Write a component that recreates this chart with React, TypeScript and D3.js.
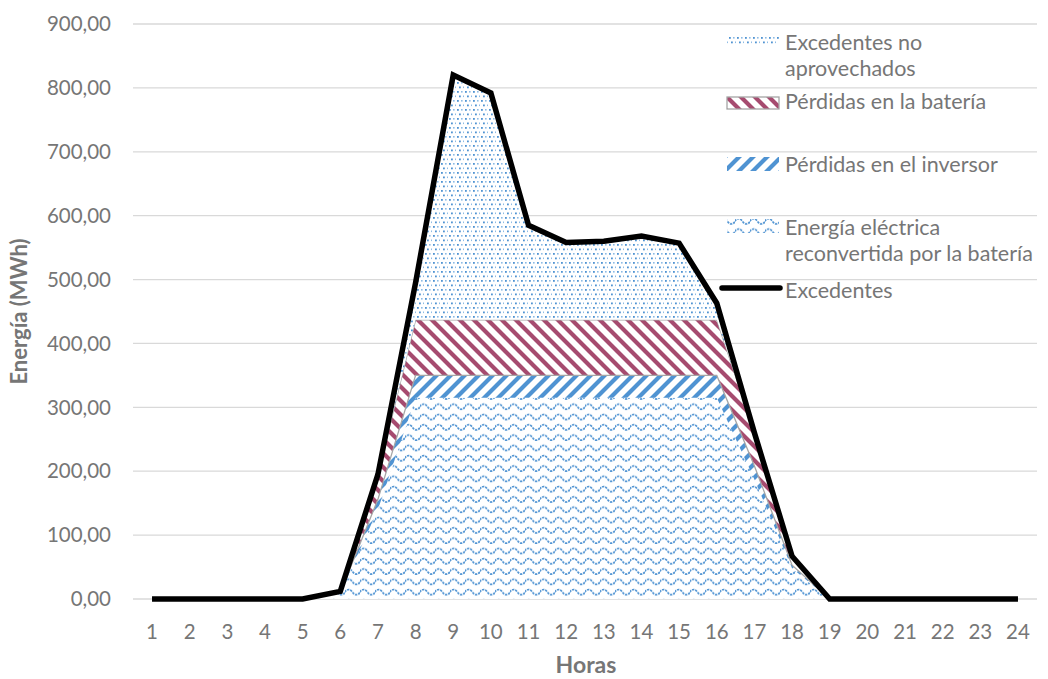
import React from "react";
import * as d3 from "d3";

const hours = ["1","2","3","4","5","6","7","8","9","10","11","12","13","14","15","16","17","18","19","20","21","22","23","24"];
const reconvertida = [0,0,0,0,0,9,140,315,315,315,315,315,315,315,315,315,187,48,0,0,0,0,0,0];
const perdidasInversor = [0,0,0,0,0,1,16,35,35,35,35,35,35,35,35,35,21,5,0,0,0,0,0,0];
const perdidasBateria = [0,0,0,0,0,2,39,87,87,87,87,87,87,87,87,87,52,14,0,0,0,0,0,0];
const noAprovechados = [0,0,0,0,0,0,0,58,383,355,148,121,123,131,120,26,0,0,0,0,0,0,0,0];
const excedentes = [0,0,0,0,0,12,195,495,820,792,585,558,560,568,557,463,260,67,0,0,0,0,0,0];
const yTicks = [0,100,200,300,400,500,600,700,800,900];

const keys = ["reconvertida","inversor","bateria","noAprov"];
const rows = hours.map((h, i) => ({
  hour: h,
  reconvertida: reconvertida[i],
  inversor: perdidasInversor[i],
  bateria: perdidasBateria[i],
  noAprov: noAprovechados[i],
}));

const BLUE = "#4f93d2";
const PINK = "#a64b6f";
const TXT = "#767676";
const FONT = "Lato, 'Liberation Sans', sans-serif";

export default function App() {
  const W = 1048, H = 679;
  const x = d3.scalePoint<string>().domain(hours).range([133.2, 1036.8]).padding(0.5);
  const y = d3.scaleLinear().domain([0, 900]).range([599, 24]);
  const fmt = d3.formatLocale({ decimal: ",", thousands: ".", grouping: [3], currency: ["", "€"] }).format(".2f");

  const series = d3.stack<any>().keys(keys)(rows);
  const area = d3.area<any>()
    .x((d) => x(d.data.hour)!)
    .y0((d) => y(d[0]))
    .y1((d) => y(d[1]));
  const line = d3.line<number>()
    .x((_, i) => x(hours[i])!)
    .y((d) => y(d));

  const fills: Record<string, string> = {
    reconvertida: "url(#pWave)",
    inversor: "url(#pUp)",
    bateria: "url(#pDown)",
    noAprov: "url(#pDots)",
  };

  const legend = [
    { key: "noAprov", lines: ["Excedentes no", "aprovechados"], py: 35, ph: 10, ty: 42 },
    { key: "bateria", lines: ["Pérdidas en la batería"], py: 97, ph: 12, ty: 101 },
    { key: "inversor", lines: ["Pérdidas en el inversor"], py: 157, ph: 14, ty: 164 },
    { key: "reconvertida", lines: ["Energía eléctrica", "reconvertida por la batería"], py: 219, ph: 14, ty: 227 },
  ];

  return (
    <svg width={W} height={H} style={{ position: "absolute", left: 0, top: 0, background: "#fff" }} fontFamily={FONT}>
      <defs>
        <pattern id="pDots" patternUnits="userSpaceOnUse" width={8} height={9}>
          <rect width={8} height={9} fill="#fff" />
          <rect x={1} y={1} width={1.8} height={1.8} fill={BLUE} />
          <rect x={5} y={1} width={1.6} height={1.6} fill="#8dbbe5" />
          <rect x={3} y={5.5} width={1.8} height={1.8} fill={BLUE} />
          <rect x={7} y={5.5} width={1.6} height={1.6} fill="#8dbbe5" />
        </pattern>
        <pattern id="pDown" patternUnits="userSpaceOnUse" width={14} height={14}>
          <rect width={14} height={14} fill="#fff" />
          <path d="M0,0 L14,14 M-7,7 L7,21 M7,-7 L21,7" stroke={PINK} strokeWidth={4.2} />
        </pattern>
        <pattern id="pUp" patternUnits="userSpaceOnUse" width={14} height={14}>
          <rect width={14} height={14} fill="#fff" />
          <path d="M0,14 L14,0 M-7,7 L7,-7 M7,21 L21,7" stroke={BLUE} strokeWidth={4.2} />
        </pattern>
        <pattern id="pWave" patternUnits="userSpaceOnUse" width={15} height={10.3}>
          <rect width={15} height={10.3} fill="#fff" />
          <path d="M-0.5,5 C2.5,1.5 5,1.5 7.5,5 S12.5,8.5 15.5,5" fill="none" stroke={BLUE} strokeWidth={1.7} strokeDasharray="2.4 0.9" />
        </pattern>
      </defs>

      {yTicks.map((t) => (
        <g key={t}>
          <line x1={133} x2={1037} y1={y(t)} y2={y(t)} stroke="#d9d9d9" strokeWidth={1.3} />
          <text x={111} y={y(t)} dy="0.35em" textAnchor="end" fontSize={20.5} fill={TXT}>{fmt(t)}</text>
        </g>
      ))}

      {series.map((s) => (
        <path key={s.key} d={area(s as any)!} fill={fills[s.key]}
          stroke={s.key === "bateria" ? "#a5a5a5" : "none"} strokeWidth={1.3} />
      ))}

      <path d={line(excedentes)!} fill="none" stroke="#000" strokeWidth={5.5} strokeLinejoin="miter" />

      {hours.map((h) => (
        <text key={h} x={x(h)!} y={632} dy="0.35em" textAnchor="middle" fontSize={20.5} fill={TXT}>{h}</text>
      ))}

      <text x={586} y={665} dy="0.35em" textAnchor="middle" fontSize={23} fontWeight="bold" fill={TXT}>Horas</text>
      <text transform={`translate(19,${(y(0) + y(900)) / 2}) rotate(-90)`} dy="0.35em" textAnchor="middle" fontSize={22} fontWeight="bold" fill={TXT}>Energía (MWh)</text>

      {legend.map((l) => (
        <g key={l.key}>
          <rect x={727} y={l.py} width={52} height={l.ph} fill={fills[l.key]}
            stroke={l.key === "bateria" ? "#a5a5a5" : "none"} strokeWidth={1.3} />
          {l.lines.map((t, j) => (
            <text key={j} x={785} y={l.ty + j * 26} dy="0.35em" fontSize={21.5} fill={TXT}>{t}</text>
          ))}
        </g>
      ))}
      <line x1={722} x2={780} y1={288} y2={288} stroke="#000" strokeWidth={5.5} strokeLinecap="round" />
      <text x={785} y={290} dy="0.35em" fontSize={21.5} fill={TXT}>Excedentes</text>
    </svg>
  );
}
